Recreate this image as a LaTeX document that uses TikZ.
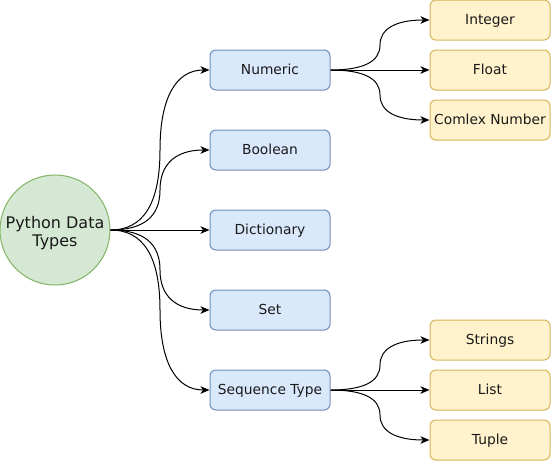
\documentclass[tikz,border=0pt]{standalone}
\usepackage{fontspec}
\setmainfont{DejaVu Sans}
\usetikzlibrary{calc,arrows.meta}
\definecolor{bfill}{HTML}{DAE8FC}\definecolor{bline}{HTML}{6C8EBF}
\definecolor{yfill}{HTML}{FFF2CC}\definecolor{yline}{HTML}{D6B656}
\definecolor{gfill}{HTML}{D5E8D4}\definecolor{gline}{HTML}{82B366}
\definecolor{txt}{HTML}{1A1A1A}
\newcommand{\qlink}[2]{%
  \path (#1) -- coordinate[pos=0.5] (mm) (#2);
  \draw[arr] (#1) .. controls ($(#1)!2/3!(#1 -| mm)$) and ($(mm)!2/3!(#1 -| mm)$) .. (mm)
    .. controls ($(mm)!2/3!(mm |- #2)$) and ($(#2)!2/3!(mm |- #2)$) .. (#2);}
\begin{document}
\begin{tikzpicture}[x=1pt,y=-1pt,
  box/.style={draw,rounded corners=6pt,minimum width=120pt,minimum height=40pt,inner sep=0pt,line width=1pt,text=txt,font=\fontsize{13.8}{16}\selectfont,text height=1.11em,text depth=0.25em},
  bluebox/.style={box,fill=bfill,draw=bline},
  yelbox/.style={box,fill=yfill,draw=yline},
  arr/.style={line width=1pt,-{Stealth[length=9pt,width=7.5pt,inset=2.5pt]}}]
\useasboundingbox (0,0) rectangle (551,461);
\node[circle,draw=gline,fill=gfill,line width=1pt,minimum size=110pt,inner sep=0pt,text=txt,font=\fontsize{16}{18}\selectfont] (py) at (55,230)
  {\raisebox{-3.7pt}[\height][\depth]{\begin{tabular}{@{}c@{}}Python Data\\Types\end{tabular}}};
\node[bluebox] (num) at (270,70) {Numeric};
\node[bluebox] (bool) at (270,150) {Boolean};
\node[bluebox] (dict) at (270,230) {Dictionary};
\node[bluebox] (set) at (270,310) {Set};
\node[bluebox] (seq) at (270,390) {Sequence Type};
\node[yelbox] (int) at (490,20) {Integer};
\node[yelbox] (flt) at (490,70) {Float};
\node[yelbox] (cpx) at (490,120) {Comlex Number};
\node[yelbox] (str) at (490,340) {Strings};
\node[yelbox] (lst) at (490,390) {List};
\node[yelbox] (tup) at (490,440) {Tuple};
\qlink{py.east}{num.west}
\qlink{py.east}{bool.west}
\draw[arr] (py.east) -- (dict.west);
\qlink{py.east}{set.west}
\qlink{py.east}{seq.west}
\qlink{num.east}{int.west}
\draw[arr] (num.east) -- (flt.west);
\qlink{num.east}{cpx.west}
\qlink{seq.east}{str.west}
\draw[arr] (seq.east) -- (lst.west);
\qlink{seq.east}{tup.west}
\end{tikzpicture}
\end{document}
